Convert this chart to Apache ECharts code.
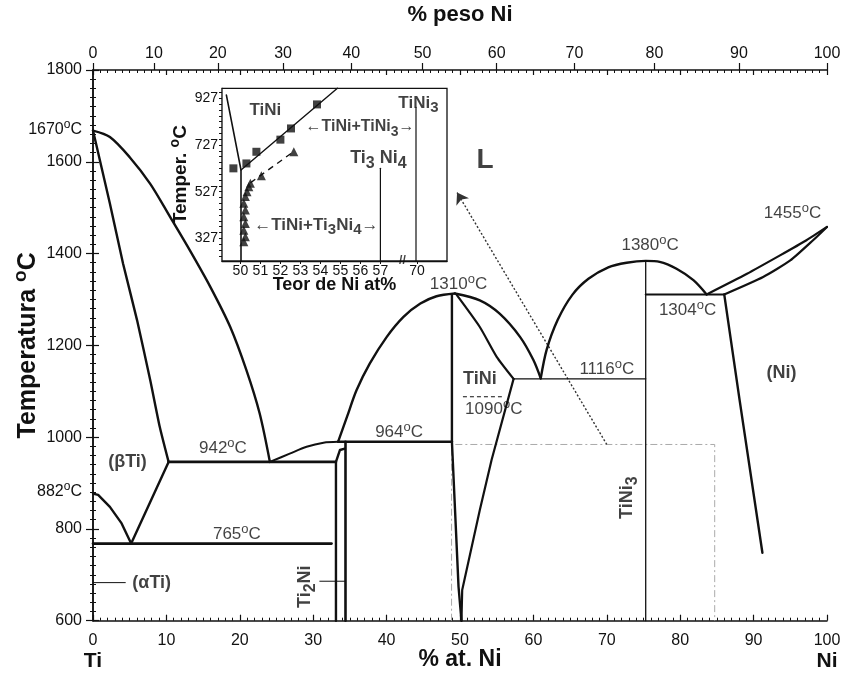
<!DOCTYPE html>
<html><head><meta charset="utf-8">
<script src="https://cdn.jsdelivr.net/npm/echarts@6/dist/echarts.min.js"></script>
<style>html,body{margin:0;padding:0;background:#fff}#c{width:842px;height:674px}</style>
</head><body><div id="c"></div>
<script>
// ---------- main diagram data (x = % at. Ni, y = temperature °C) ----------
const liquidusTi = [[0,1668],[2.3,1654],[5.0,1610],[7.8,1552],[10.5,1480],[13.2,1407],[16.0,1327],[18.7,1240],[20.9,1146],[22.7,1052],[24.1,946]];
const solidusBetaTi = [[0,1668],[2.3,1509],[4.1,1378],[6.0,1255],[7.8,1124],[9.1,1022],[10.3,946]];
const betaTransus = [[0,877],[0.7,874],[2.3,848],[3.9,812],[5.2,768],[10.3,946]];
const eutectic942 = [[10.3,946],[33.1,946]];
const eutectoid765 = [[0,768],[32.5,768]];
const liquidusEutToPeri = [[24.1,946],[26.8,964],[29.1,979],[31.4,988],[33.4,990]];
const liquidusPeriToTiNi = [[33.4,990],[34.6,1044],[35.9,1102],[37.7,1160],[40.0,1218],[42.3,1262],[44.6,1291],[46.8,1307],[49.3,1313]];
const peritectic984 = [[33.4,990],[48.9,990]];
const ti2NiLeft = [[33.1,600],[33.1,946],[33.65,972],[34.3,975]];
const ti2NiRight = [[34.4,600],[34.4,990]];
const tiNiLeft = [[48.9,1310],[48.9,990],[49.8,674],[50.2,600]];
const tiNiRightSolidus = [[49.5,1311],[52.7,1240],[55.0,1175],[57.3,1127]];
const tiNiRightSolvus = [[57.3,1127],[54.3,950],[52.7,841],[50.3,667],[50.2,600]];
const liquidusTiNiToEut = [[49.3,1313],[52.7,1298],[55.4,1269],[58.2,1218],[60.0,1168],[61.0,1128]];
const liquidusTiNi3 = [[61.0,1128],[61.8,1190],[63.3,1255],[65.3,1310],[67.5,1345],[70.2,1370],[72.7,1380],[75.3,1384],[77.2,1382],[79.5,1367],[81.8,1342],[83.6,1311]];
const eutectic1116 = [[57.3,1127],[75.3,1127]];
const tiNi3Line = [[75.3,1384],[75.3,600]];
const eutectic1304 = [[75.3,1311],[86.0,1311]];
const liquidusNi = [[83.6,1311],[89.1,1356],[93.6,1396],[97.2,1429],[100,1458]];
const solidusNi = [[86.0,1311],[91.3,1349],[95.0,1385],[98.1,1429],[100,1458]];
const solvusNi = [[86.0,1311],[88.1,1080],[91.2,748]];
const line1090 = [[50.4,1088],[55.7,1088]];
const alphaTiLeader = [[0,683],[4.4,683]];
const ti2NiLeader = [[30.9,686],[34.4,686]];
const zoomBox = [[48.85,600],[48.85,984],[84.7,984],[84.7,600]];
const arrowLine = [[70.0,984],[49.6,1533]];

// axis tick labels
const yLabelValues = [600,800,882,1000,1200,1400,1600,1670,1800];
const yLabelTexts = ['600','800','882ºC','1000','1200','1400','1600','1670ºC','1800'];
const wtTickPos = [0,8.3,17.0,25.9,35.2,44.9,55.0,65.6,76.5,88.0,100];
const wtTickLabels = ['0','10','20','30','40','50','60','70','80','90','100'];

// ---------- inset data (x = broken Ni at% scale, y = °C) ----------
const insetXPos = [50,51,52,53,54,55,56,57,58.83,59.5];
const insetXLabels = ['50','51','52','53','54','55','56','57','70','80'];
const insetYValues = [327,527,727,927];
const insetBoundary = [[49.3,941],[50.03,620],[50.03,230]];
const insetSolvus = [[50.03,620],[54.85,970]];
const insetSquares = [[49.65,627],[50.3,648],[50.8,698],[52.0,750],[52.53,798],[53.83,901]];
const insetTriangles = [[52.67,698],[51.05,595],[50.5,563],[50.42,548],[50.33,527],[50.25,506],[50.17,477],[50.25,448],[50.17,420],[50.25,391],[50.17,362],[50.25,334],[50.17,312]];
const insetDashed = [[50.5,565],[52.6,695]];
const insetTi3Ni4 = [[57,627],[57,230]];
const insetTiNi3 = [[58.78,888],[58.78,230]];

// ---------- styling helpers ----------
const F = '"Liberation Sans", Arial, sans-serif';
const INK = '#111';
function R(fs, weight) {
  weight = weight || 'normal';
  return {
    n:   {fontSize: fs, fontWeight: weight, fontFamily: F, color: INK},
    sup: {fontSize: Math.round(fs*0.75), fontWeight: weight, fontFamily: F, color: INK, padding:[0,0,Math.round(fs*0.6),0]},
    sub: {fontSize: Math.round(fs*0.88), fontWeight: weight, fontFamily: F, color: INK, padding:[Math.round(fs*0.6),0,0,0]}
  };
}
function deg(s) {
  const parts = s.split('ºC');
  if (parts.length === 1) return '{n|' + s + '}';
  return '{n|' + parts[0] + '}{sup|o}{n|C}';
}
function L(data, w, extra) {
  return Object.assign({type:'line', data: data, xAxisIndex:0, yAxisIndex:0, symbol:'none', silent:true,
    animation:false, clip:false, z:3, lineStyle:{color:INK, width:w, cap:'round', join:'round'}}, extra||{});
}
function IL(data, w, extra) {
  return L(data, w, Object.assign({xAxisIndex:3, yAxisIndex:2, z:6}, extra||{}));
}
function ann(x, y, text, fs, weight, extra) {
  return {value:[x,y], label:Object.assign({show:true, position:'inside', color:INK, textBorderWidth:0,
    fontWeight:weight||'normal', fontSize:fs, formatter:text, rich:R(fs,weight)}, extra||{})};
}

const mainLabels = [
  ann(4.7, 946, '{n|(βTi)}', 18, 'bold'),
  ann(17.7, 976, deg('942ºC'), 17),
  ann(19.6, 789, deg('765ºC'), 17),
  ann(8.0, 683, '{n|(αTi)}', 18, 'bold'),
  ann(28.9, 674, '{n|Ti}{sub|2}{n|Ni}', 18, 'bold', {rotate:90}),
  ann(41.7, 1011, deg('964ºC'), 17),
  ann(49.8, 1333, deg('1310ºC'), 17),
  ann(52.7, 1126, '{n|TiNi}', 18, 'bold'),
  ann(54.6, 1061, deg('1090ºC'), 17),
  ann(70.0, 1148, deg('1116ºC'), 17),
  ann(75.9, 1418, deg('1380ºC'), 17),
  ann(81.0, 1276, deg('1304ºC'), 17),
  ann(95.3, 1487, deg('1455ºC'), 17),
  ann(93.8, 1139, '{n|(Ni)}', 18, 'bold'),
  ann(72.7, 868, '{n|TiNi}{sub|3}', 18, 'bold', {rotate:90}),
  ann(53.4, 1603, '{n|L}', 28, 'bold')
];
const insetLabels = [
  ann(51.25, 877, '{n|TiNi}', 17, 'bold'),
  ann(55.98, 805, '{n|←TiNi+TiNi}{sub|3}{n|→}', 16, 'bold'),
  ann(56.9, 671, '{n|Ti}{sub|3}{n| Ni}{sub|4}', 18, 'bold'),
  ann(58.9, 907, '{n|TiNi}{sub|3}', 17, 'bold'),
  ann(53.8, 384, '{n|←TiNi+Ti}{sub|3}{n|Ni}{sub|4}{n|→}', 17, 'bold'),
  ann(58.1, 230, '{n|//}', 12, 'bold')
];

const axisLineStyle = {lineStyle:{color:INK, width:1.5}};
const option = {
  animation:false,
  backgroundColor:'#fff',
  grid:[
    {left:93, right:15, top:70, bottom:53.3, outerBoundsMode:'none', containLabel:false},
    {left:222, top:88.3, width:225, height:172.7, show:true, backgroundColor:'#fff', borderColor:INK, borderWidth:1.3, z:4, outerBoundsMode:'none', containLabel:false}
  ],
  xAxis:[
    {gridIndex:0, type:'value', min:0, max:100, interval:10, position:'bottom',
      axisLine:axisLineStyle, splitLine:{show:false},
      axisTick:{inside:true, length:6, lineStyle:{color:INK, width:1.2}},
      minorTick:{show:true, splitNumber:10, length:3, lineStyle:{color:INK}},
      axisLabel:{margin:12, formatter:function(v){
        if (v===0) return '{n|0}\n{t|Ti}';
        if (v===100) return '{n|100}\n{t|Ni}';
        return '{n|'+v+'}';
      }, rich:Object.assign(R(16), {t:{fontSize:21, fontWeight:'bold', fontFamily:F, color:INK, lineHeight:26}})},
      name:'% at. Ni', nameLocation:'middle', nameGap:27, nameMoveOverlap:false,
      nameTextStyle:{fontSize:23, fontWeight:'bold', fontFamily:F, color:INK}},
    {gridIndex:0, type:'value', min:0, max:100, position:'top',
      axisLine:axisLineStyle, splitLine:{show:false},
      axisTick:{customValues:wtTickPos, inside:false, length:7, lineStyle:{color:INK, width:1.2}},
      axisLabel:{customValues:wtTickPos, margin:8, formatter:function(v){ return '{n|'+wtTickLabels[wtTickPos.indexOf(v)]+'}'; }, rich:R(16)},
      name:'% peso Ni', nameLocation:'middle', nameGap:44, nameMoveOverlap:false,
      nameTextStyle:{fontSize:22, fontWeight:'bold', fontFamily:F, color:INK}},
    {gridIndex:0, type:'value', min:0, max:100, interval:10, position:'top',
      axisLine:{show:false}, splitLine:{show:false}, axisLabel:{show:false},
      axisTick:{inside:true, length:5, lineStyle:{color:INK, width:1.2}},
      minorTick:{show:true, splitNumber:10, length:3, lineStyle:{color:INK}}},
    {gridIndex:1, type:'value', min:49.08, max:60.33, position:'bottom',
      axisLine:{lineStyle:{color:INK, width:1.3}}, splitLine:{show:false},
      axisTick:{customValues:insetXPos, length:3, lineStyle:{color:INK}},
      axisLabel:{customValues:insetXPos, margin:3, formatter:function(v){ return '{n|'+insetXLabels[insetXPos.indexOf(v)]+'}'; }, rich:R(14)},
      name:'Teor de Ni at%', nameLocation:'middle', nameGap:15, nameMoveOverlap:false,
      nameTextStyle:{fontSize:18, fontWeight:'bold', fontFamily:F, color:INK}}
  ],
  yAxis:[
    {gridIndex:0, type:'value', min:600, max:1800, interval:200, position:'left',
      axisLine:axisLineStyle, splitLine:{show:false},
      axisTick:{inside:false, length:7, lineStyle:{color:INK, width:1.2}},
      minorTick:{show:true, splitNumber:10, length:3, lineStyle:{color:INK}},
      axisLabel:{customValues:yLabelValues, margin:11, formatter:function(v){ return deg(yLabelTexts[yLabelValues.indexOf(v)]); }, rich:R(16)},
      name:'{n|Temperatura }{sup|o}{n|C}', nameLocation:'middle', nameGap:48, nameMoveOverlap:false,
      nameTextStyle:{rich:R(25,'bold')}},
    {gridIndex:0, type:'value', min:600, max:1800, interval:200, position:'right',
      axisLine:axisLineStyle, splitLine:{show:false}, axisLabel:{show:false},
      axisTick:{inside:false, length:6, lineStyle:{color:INK, width:1.2}},
      minorTick:{show:true, splitNumber:10, length:3, lineStyle:{color:INK}}},
    {gridIndex:1, type:'value', min:230, max:970, position:'left',
      axisLine:{lineStyle:{color:INK, width:1.3}}, splitLine:{show:false},
      axisTick:{customValues:[252,277,302,327,352,377,402,427,452,477,502,527,552,577,602,627,652,677,702,727,752,777,802,827,852,877,902,927,952], length:3, lineStyle:{color:INK}},
      axisLabel:{customValues:insetYValues, margin:4, formatter:function(v){ return '{n|'+v+'}'; }, rich:R(14)},
      name:'{n|Temper. }{sup|o}{n|C}', nameLocation:'middle', nameGap:29, nameMoveOverlap:false,
      nameTextStyle:{rich:R(19,'bold')}}
  ],
  series:[
    L(zoomBox, 1, {lineStyle:{color:'#aaa', width:1, type:[7,3,2,3]}, z:2}),
    L(liquidusTi, 2.4, {smooth:0.3}),
    L(solidusBetaTi, 2.4, {smooth:0.2}),
    L(betaTransus, 2.4),
    L(eutectic942, 2.6),
    L(eutectoid765, 2.6),
    L(liquidusEutToPeri, 2, {smooth:0.3}),
    L(liquidusPeriToTiNi, 2.4, {smooth:0.3}),
    L(peritectic984, 2.6),
    L(ti2NiLeft, 2.4),
    L(ti2NiRight, 2.6),
    L(tiNiLeft, 2.4),
    L(tiNiRightSolidus, 2.2, {smooth:0.2}),
    L(tiNiRightSolvus, 2.2),
    L(liquidusTiNiToEut, 2.4, {smooth:0.3}),
    L(liquidusTiNi3, 2.4, {smooth:0.3}),
    L(eutectic1116, 1.3),
    L(tiNi3Line, 1.3),
    L(eutectic1304, 2),
    L(liquidusNi, 2.2, {smooth:0.2}),
    L(solidusNi, 2.2, {smooth:0.2}),
    L(solvusNi, 2.4),
    L(line1090, 1.2, {lineStyle:{color:INK, width:1.2, type:[4,3]}}),
    L(alphaTiLeader, 1),
    L(ti2NiLeader, 1),
    {type:'lines', coordinateSystem:'cartesian2d', xAxisIndex:0, yAxisIndex:0, silent:true, animation:false, z:3,
      symbol:['none','arrow'], symbolSize:11,
      lineStyle:{color:'#333', width:1.4, type:[2,2], opacity:1},
      data:[{coords:arrowLine}]},
    {type:'scatter', xAxisIndex:0, yAxisIndex:0, symbolSize:0, silent:true, animation:false, z:5, data:mainLabels},
    // inset
    IL(insetBoundary, 1.6),
    IL(insetSolvus, 1.4),
    IL(insetDashed, 1.4, {lineStyle:{color:INK, width:1.4, type:[6,5]}}),
    IL(insetTi3Ni4, 1.2),
    IL(insetTiNi3, 1.2),
    {type:'scatter', xAxisIndex:3, yAxisIndex:2, symbol:'rect', symbolSize:8, silent:true, animation:false, z:7,
      itemStyle:{color:INK}, data:insetSquares},
    {type:'scatter', xAxisIndex:3, yAxisIndex:2, symbol:'triangle', symbolSize:9, silent:true, animation:false, z:7,
      itemStyle:{color:INK}, data:insetTriangles},
    {type:'scatter', xAxisIndex:3, yAxisIndex:2, symbolSize:0, silent:true, animation:false, z:8, data:insetLabels}
  ]
};
const chart = echarts.init(document.getElementById('c'));
chart.setOption(option);
</script>
</body></html>
